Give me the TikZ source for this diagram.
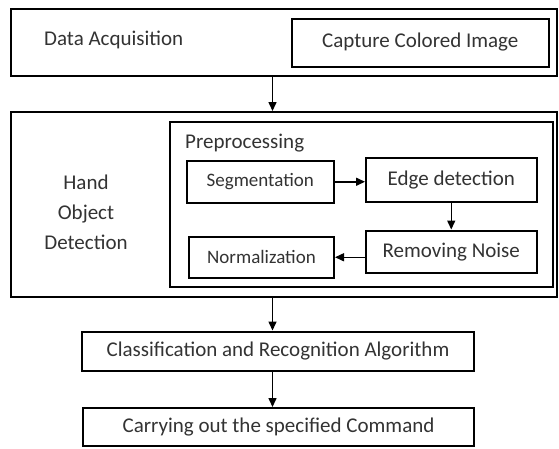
\documentclass[tikz,border=0pt]{standalone}
\usepackage{fontspec}
\setmainfont{Carlito}
\usetikzlibrary{arrows.meta}

\begin{document}
\begin{tikzpicture}[x=1pt,y=-1pt,
  box/.style={draw=black, line width=2pt, inner sep=0pt, text=black!80, font=\fontsize{21}{24}\selectfont},
  smallbox/.style={box, font=\fontsize{19}{22}\selectfont},
  label/.style={inner sep=0pt, text=black!80, font=\fontsize{21}{24}\selectfont},
  arr/.style={draw=black, line width=1.5pt, -{Triangle[length=9pt,width=8pt]}}
]
\useasboundingbox (0,0) rectangle (559,448);
\fill[white] (0,0) rectangle (559,448);

% Data acquisition stage
\node[box, minimum width=546pt, minimum height=67.5pt] (acq) at (284,42.25) {};
\node[box, minimum width=257.5pt, minimum height=48pt] (cap) at (420.25,42.5) {Capture Colored Image};
\node[label, anchor=west] (acqlbl) at (44,40) {Data Acquisition};

% Hand object detection stage
\node[box, minimum width=546pt, minimum height=184.5pt] (det) at (284,204.25) {};
\node[label, align=center] (detlbl) at (86,212) {Hand\\[6pt]Object\\[6pt]Detection};

% Preprocessing sub-stage
\node[box, minimum width=382.5pt, minimum height=165pt] (pre) at (361.25,204.5) {};
\node[label, anchor=west] (prelbl) at (185,143) {Preprocessing};
\node[smallbox, minimum width=147.5pt, minimum height=42.5pt] (seg) at (260.25,181.75) {Segmentation};
\node[box, minimum width=170.5pt, minimum height=43.5pt] (edge) at (451.25,179.75) {Edge detection};
\node[box, minimum width=170.5pt, minimum height=42.5pt] (noise) at (451.25,251.75) {Removing Noise};
\node[smallbox, minimum width=145pt, minimum height=41.5pt] (norm) at (261.5,257.25) {Normalization};

% Later stages
\node[box, minimum width=392pt, minimum height=39pt] (cls) at (278,351) {Classification and Recognition Algorithm};
\node[box, minimum width=391pt, minimum height=38pt] (cmd) at (278.5,427) {Carrying out the specified Command};

% Connectors
\coordinate (ax) at (272.5,0);
\draw[arr] (acq.south -| ax) -- (det.north -| ax);
\draw[arr] (seg.east) -- (seg.east -| edge.west);
\draw[arr] (edge.south) -- (noise.north);
\draw[arr] (noise.west |- norm.east) -- (norm.east);
\draw[arr] (det.south -| ax) -- (cls.north -| ax);
\draw[arr] (cls.south -| ax) -- (cmd.north -| ax);
\end{tikzpicture}
\end{document}
